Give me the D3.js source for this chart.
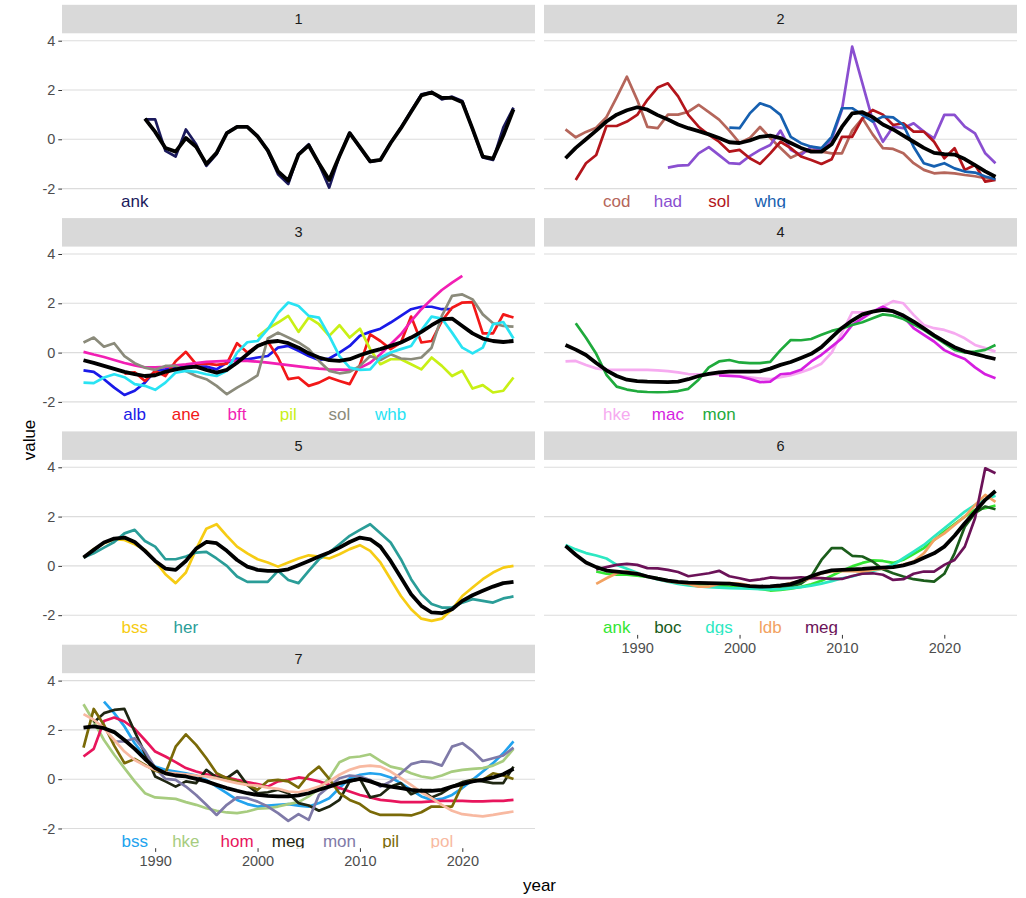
<!DOCTYPE html>
<html>
<head>
<meta charset="utf-8">
<script src="https://cdn.jsdelivr.net/npm/d3@7"></script>
<style>
  body { margin: 0; background: #ffffff; }
  svg { display: block; font-family: "Liberation Sans", Arial, Helvetica, sans-serif; }
</style>
</head>
<body>
<svg id="chart" width="1026" height="898"></svg>
<script>
// ---- Yearly index values per cluster (each series starts at its first year) ----
// Cluster 1
const c1_ank   = [0.81,0.81,-0.47,-0.7,0.4,-0.2,-1.08,-0.6,0.27,0.51,0.51,0.14,-0.47,-1.42,-1.82,-0.6,-0.2,-1.01,-1.96,-0.68,0.27,-0.34,-0.92,-0.84,-0.14,0.47,1.15,1.82,1.92,1.62,1.73,1.55,0.41,-0.74,-0.84,0.47,1.28];
const c1_trend = [0.84,0.3,-0.35,-0.5,0.05,-0.3,-1.0,-0.55,0.25,0.5,0.5,0.12,-0.45,-1.3,-1.68,-0.62,-0.25,-0.98,-1.65,-0.68,0.25,-0.32,-0.9,-0.84,-0.15,0.45,1.12,1.78,1.9,1.68,1.68,1.5,0.42,-0.7,-0.78,0.15,1.22];

// Cluster 2
const c2_cod = [0.4,0.08,0.3,0.47,0.9,1.7,2.54,1.6,0.5,0.45,1.0,1.0,1.12,1.4,1.1,0.8,0.35,-0.15,0.05,0.5,0.05,-0.35,-0.75,-0.55,-0.43,-0.5,-0.57,-0.57,0.35,0.85,0.2,-0.36,-0.39,-0.57,-0.97,-1.24,-1.38,-1.35,-1.38,-1.45,-1.5,-1.58,-1.62];
const c2_had = [-1.15,-1.07,-1.05,-0.57,-0.32,-0.64,-0.97,-1.0,-0.68,-0.43,-0.23,0.35,-0.43,-0.64,-0.3,-0.45,0.0,1.2,3.76,2.27,0.78,-0.1,0.51,0.45,0.65,0.31,0.04,0.99,0.99,0.51,0.24,-0.57,-0.97];
const c2_sol = [-1.65,-0.97,-0.64,0.54,0.54,0.72,0.99,1.6,2.1,2.27,1.74,0.99,0.51,0.18,-0.1,-0.5,-0.43,-0.77,-1.0,-0.57,-0.1,-0.36,-0.7,-0.84,-1.0,-0.81,0.1,0.1,0.85,1.19,1.0,0.58,0.65,0.31,0.31,-0.1,-0.77,-0.36,-1.24,-1.04,-1.72,-1.65];
const c2_whg = [0.47,0.45,1.05,1.46,1.32,0.99,0.1,-0.16,-0.3,-0.36,0.1,1.26,1.26,0.99,0.72,0.92,0.89,0.58,-0.3,-0.97,-1.1,-0.97,-1.18,-1.31,-1.35,-1.51,-1.62];
const c2_trend = [-0.77,-0.35,0.0,0.35,0.72,1.0,1.18,1.3,1.2,0.98,0.8,0.6,0.45,0.33,0.2,0.05,-0.12,-0.15,-0.05,0.1,0.15,0.05,-0.15,-0.35,-0.5,-0.5,-0.2,0.5,1.05,1.1,0.9,0.6,0.4,0.15,-0.1,-0.35,-0.55,-0.6,-0.62,-0.8,-1.05,-1.3,-1.52];

// Cluster 3
const c3_alb = [-0.72,-0.78,-1.08,-1.42,-1.72,-1.55,-1.22,-0.74,-0.68,-0.57,-0.54,-0.57,-0.57,-0.68,-0.41,-0.24,-0.27,-0.2,-0.14,0.2,0.27,0.07,-0.14,-0.3,-0.24,0.0,0.27,0.68,0.84,0.97,1.22,1.49,1.76,1.86,1.86,1.76,1.76];
const c3_ane = [-0.85,-0.8,-1.15,-0.75,-0.95,-0.35,0.03,-0.47,-0.45,-0.5,-0.45,0.38,0.0,0.27,0.45,-0.2,-1.08,-1.01,-1.35,-1.22,-1.01,-1.15,-1.28,-0.5,0.74,0.47,0.14,0.4,1.46,0.41,0.47,1.28,1.82,2.03,2.05,0.78,0.78,1.55,1.42];
const c3_bft = [0.03,-0.08,-0.18,-0.3,-0.42,-0.52,-0.6,-0.6,-0.58,-0.52,-0.48,-0.43,-0.38,-0.36,-0.34,-0.34,-0.34,-0.37,-0.41,-0.46,-0.51,-0.56,-0.61,-0.65,-0.68,-0.69,-0.7,-0.62,-0.41,-0.07,0.34,0.74,1.28,1.76,2.16,2.54,2.84,3.11];
const c3_pil = [0.65,0.97,1.22,1.49,0.84,1.42,1.15,0.68,1.11,0.61,0.97,0.14,-0.47,-0.27,-0.27,-0.47,-0.68,-0.2,-0.54,-0.95,-0.74,-1.46,-1.32,-1.62,-1.55,-1.01];
const c3_sol = [0.41,0.61,0.24,0.38,-0.14,-0.43,-0.61,-0.7,-0.54,-0.54,-0.75,-0.95,-1.08,-1.35,-1.69,-1.42,-1.19,-0.92,0.57,0.81,0.61,0.41,0.14,-0.34,-0.74,-0.84,-0.78,-0.54,-0.14,-0.3,-0.07,-0.24,-0.27,-0.2,0.2,1.49,2.3,2.36,2.16,1.55,1.19,1.08,1.05];
const c3_whb = [-1.22,-1.24,-1.01,-0.88,-1.0,-1.28,-1.35,-1.51,-1.22,-0.81,-0.74,-0.78,-0.88,-0.95,-0.74,0.0,0.42,0.47,0.95,1.6,2.03,1.89,1.49,1.42,0.68,-0.14,-0.61,-0.7,-0.68,-0.2,0.0,0.14,0.27,0.9,1.46,1.38,0.81,0.2,-0.03,0.2,1.15,1.24,0.57];
const c3_trend = [-0.31,-0.42,-0.54,-0.66,-0.78,-0.87,-0.95,-0.92,-0.78,-0.68,-0.61,-0.57,-0.7,-0.81,-0.7,-0.41,-0.07,0.27,0.43,0.47,0.38,0.2,-0.03,-0.2,-0.31,-0.34,-0.27,-0.11,0.03,0.14,0.27,0.41,0.61,0.84,1.11,1.35,1.38,1.08,0.78,0.57,0.47,0.43,0.47];

// Cluster 4
const c4_hke = [-0.36,-0.34,-0.5,-0.64,-0.7,-0.7,-0.7,-0.7,-0.7,-0.72,-0.75,-0.8,-0.87,-0.88,-0.88,-0.9,-0.92,-0.95,-1.0,-1.05,-1.08,-1.0,-0.92,-0.8,-0.65,-0.45,0.0,0.8,1.63,1.63,1.66,1.86,2.09,2.0,1.53,1.12,0.99,0.92,0.78,0.58,0.31,0.18,0.04];
const c4_mac = [-0.93,-0.95,-0.97,-1.07,-1.2,-1.18,-0.88,-0.84,-0.7,-0.36,-0.09,0.24,0.58,1.12,1.39,1.66,1.86,1.66,1.46,0.99,0.72,0.45,0.1,-0.1,-0.26,-0.6,-0.88,-1.04];
const c4_mon = [1.19,0.6,-0.05,-0.9,-1.38,-1.5,-1.57,-1.6,-1.61,-1.6,-1.56,-1.47,-1.1,-0.6,-0.36,-0.3,-0.4,-0.43,-0.43,-0.38,0.1,0.51,0.5,0.55,0.72,0.88,0.98,1.12,1.23,1.39,1.55,1.5,1.36,1.15,0.92,0.65,0.38,0.11,0.01,0.04,0.11,0.31];
const c4_trend = [0.31,0.12,-0.1,-0.42,-0.72,-0.95,-1.1,-1.16,-1.18,-1.19,-1.2,-1.18,-1.08,-0.95,-0.86,-0.8,-0.77,-0.77,-0.77,-0.76,-0.65,-0.5,-0.38,-0.22,-0.05,0.22,0.62,1.0,1.3,1.55,1.66,1.73,1.68,1.5,1.26,0.98,0.7,0.45,0.22,0.05,-0.05,-0.16,-0.26];

// Cluster 5
const c5_bss = [0.34,0.68,0.92,1.08,1.05,0.88,0.65,0.2,-0.34,-0.7,-0.27,0.68,1.51,1.69,1.22,0.78,0.51,0.27,0.14,-0.03,0.14,0.3,0.43,0.38,0.3,0.47,0.68,0.84,0.61,0.14,-0.54,-1.22,-1.76,-2.14,-2.23,-2.14,-1.76,-1.22,-0.88,-0.54,-0.27,-0.07,0.0];
const c5_her = [0.34,0.51,0.74,0.97,1.32,1.46,1.01,0.78,0.27,0.27,0.38,0.54,0.57,0.3,0.0,-0.43,-0.65,-0.65,-0.65,-0.2,-0.57,-0.7,-0.2,0.27,0.54,0.88,1.22,1.46,1.69,1.32,0.95,0.27,-0.54,-1.15,-1.55,-1.69,-1.69,-1.49,-1.35,-1.42,-1.49,-1.32,-1.24];
const c5_trend = [0.34,0.65,0.95,1.11,1.15,0.97,0.61,0.2,-0.11,-0.16,0.2,0.7,0.97,0.92,0.61,0.24,-0.03,-0.16,-0.2,-0.2,-0.14,0.03,0.2,0.38,0.54,0.74,0.97,1.15,1.08,0.78,0.2,-0.47,-1.15,-1.62,-1.89,-1.92,-1.76,-1.42,-1.19,-1.01,-0.84,-0.7,-0.65];

// Cluster 6
const c6_ank = [-0.23,-0.32,-0.36,-0.36,-0.4,-0.45,-0.5,-0.6,-0.67,-0.73,-0.77,-0.8,-0.82,-0.84,-0.85,-0.88,-0.93,-1.0,-0.97,-0.92,-0.85,-0.75,-0.6,-0.4,-0.2,-0.02,0.12,0.22,0.2,0.12,0.25,0.48,0.72,1.05,1.39,1.7,2.0,2.27,2.34,2.45];
const c6_boc = [-0.9,-0.88,-0.82,-0.72,-0.43,0.24,0.72,0.72,0.41,0.38,0.18,-0.14,-0.3,-0.43,-0.54,-0.6,-0.64,-0.32,0.51,1.59,2.14,2.41,2.3];
const c6_dgs = [0.85,0.67,0.52,0.42,0.3,0.04,-0.12,-0.28,-0.43,-0.55,-0.64,-0.73,-0.79,-0.83,-0.86,-0.88,-0.9,-0.91,-0.92,-0.94,-0.95,-0.94,-0.9,-0.86,-0.8,-0.72,-0.62,-0.5,-0.43,-0.3,-0.2,-0.1,0.04,0.31,0.58,0.85,1.19,1.53,1.86,2.2,2.47,2.7,2.85];
const c6_ldb = [-0.73,-0.5,-0.3,-0.23,-0.3,-0.43,-0.53,-0.62,-0.68,-0.73,-0.84,-0.84,-0.73,-0.7,-0.72,-0.8,-0.84,-0.84,-0.8,-0.7,-0.62,-0.5,-0.3,-0.23,-0.2,-0.21,-0.23,-0.16,-0.11,-0.05,0.05,0.18,0.51,1.05,1.32,1.66,2.0,2.47,2.88,2.6];
const c6_meg = [-0.14,-0.05,0.04,0.08,0.04,-0.09,-0.1,-0.16,-0.25,-0.42,-0.36,-0.3,-0.2,-0.42,-0.5,-0.6,-0.55,-0.47,-0.5,-0.5,-0.46,-0.5,-0.5,-0.53,-0.53,-0.41,-0.32,-0.3,-0.36,-0.57,-0.54,-0.32,-0.23,-0.23,0.04,0.24,0.78,1.93,3.96,3.76];
const c6_trend = [0.81,0.45,0.14,-0.05,-0.19,-0.23,-0.27,-0.32,-0.43,-0.52,-0.6,-0.65,-0.68,-0.69,-0.7,-0.71,-0.72,-0.77,-0.82,-0.84,-0.83,-0.79,-0.74,-0.6,-0.42,-0.28,-0.18,-0.16,-0.14,-0.12,-0.09,-0.07,-0.05,0.02,0.14,0.33,0.51,0.78,1.22,1.73,2.2,2.68,3.04];

// Cluster 7
const c7_bss = [3.15,2.68,2.14,1.46,0.92,0.51,0.38,0.31,0.24,0.15,-0.03,-0.3,-0.57,-0.84,-1.01,-1.11,-1.07,-1.04,-1.01,-1.07,-1.11,-0.97,-0.77,-0.36,0.04,0.18,0.24,0.2,0.07,-0.16,-0.43,-0.7,-0.84,-0.8,-0.64,-0.36,-0.03,0.31,0.65,1.05,1.53];
const c7_hke = [3.04,2.34,1.59,0.99,0.45,-0.09,-0.57,-0.74,-0.77,-0.8,-0.93,-1.04,-1.18,-1.28,-1.35,-1.38,-1.31,-1.2,-1.18,-1.11,-1.01,-0.93,-0.7,-0.39,0.04,0.69,0.88,0.92,1.01,0.74,0.51,0.42,0.24,0.11,0.04,0.15,0.31,0.38,0.42,0.45,0.55,0.74,1.23];
const c7_hom = [0.92,1.23,2.36,2.5,2.34,2.04,1.59,1.12,0.92,0.69,0.45,0.31,0.2,0.15,0.07,-0.03,-0.12,-0.2,-0.3,-0.09,-0.03,0.07,0.01,-0.09,-0.23,-0.36,-0.5,-0.64,-0.74,-0.84,-0.88,-0.93,-0.93,-0.93,-0.9,-0.88,-0.88,-0.88,-0.9,-0.9,-0.88,-0.88,-0.84];
const c7_meg = [2.3,2.68,2.81,2.85,1.93,1.05,0.11,-0.09,-0.3,-0.09,-0.16,0.38,0.07,0.04,0.34,-0.23,-0.57,-0.53,-0.43,-0.57,-0.97,-1.07,-1.28,-1.11,-0.84,-0.09,0.01,-0.74,-0.64,-0.3,-0.16,-0.61,-0.43,-0.74,-0.57,-0.3,-0.12,-0.03,-0.09,-0.16,-0.16,0.51];
const c7_mon = [1.53,1.53,1.66,1.15,0.45,0.01,-0.03,-0.3,-0.64,-1.04,-1.45,-1.04,-0.74,-0.77,-0.91,-1.11,-1.38,-1.69,-1.42,-1.65,-0.64,-0.3,0.04,0.15,0.11,-0.03,-0.3,-0.09,0.24,0.61,0.72,0.69,0.55,1.32,1.46,1.15,0.74,0.85,0.96,1.28];
const c7_pil = [1.28,2.85,2.2,1.36,0.65,0.82,0.58,0.34,0.24,1.32,1.82,1.39,0.85,0.24,0.04,-0.09,-0.23,-0.43,-0.07,-0.03,-0.09,-0.34,0.18,0.51,0.01,-0.57,-0.84,-1.01,-1.31,-1.45,-1.45,-1.45,-1.47,-1.34,-1.11,-1.11,-1.11,-0.23,-0.03,-0.03,0.24,0.15,0.01];
const c7_pol = [2.64,2.41,2.07,1.59,1.12,0.78,0.55,0.38,0.28,0.24,0.2,0.15,0.11,0.04,-0.07,-0.16,-0.23,-0.26,-0.34,-0.39,-0.5,-0.53,-0.43,-0.3,-0.09,0.18,0.38,0.51,0.55,0.51,0.31,0.04,-0.23,-0.53,-0.77,-1.04,-1.28,-1.42,-1.47,-1.51,-1.45,-1.38,-1.31];
const c7_trend = [2.09,2.14,2.07,1.91,1.59,1.23,0.82,0.45,0.24,0.15,0.11,0.01,-0.09,-0.23,-0.36,-0.47,-0.57,-0.64,-0.68,-0.7,-0.7,-0.66,-0.57,-0.43,-0.3,-0.16,-0.07,0.01,-0.09,-0.23,-0.3,-0.36,-0.43,-0.47,-0.47,-0.43,-0.3,-0.2,-0.09,-0.03,0.07,0.2,0.42];

// Axis ticks and label slots
const yTicks = [-2, 0, 2, 4];
const xTicks = [1990, 2000, 2010, 2020];
const labelYears = [1988, 1993, 1998, 2003, 2008, 2013, 2018];
const labelValue = -2.5;

// Series table: [cluster, stock, first year, values, colour]
const seriesTable = [
  [1, "ank", 1989, c1_ank, "#1b1a5c"],
  [2, "cod", 1983, c2_cod, "#b5665b"],
  [2, "had", 1993, c2_had, "#8a4fd0"],
  [2, "sol", 1984, c2_sol, "#b3151b"],
  [2, "whg", 1999, c2_whg, "#1660b0"],
  [3, "alb", 1983, c3_alb, "#1a1ae8"],
  [3, "ane", 1987, c3_ane, "#f21818"],
  [3, "bft", 1983, c3_bft, "#f21fb4"],
  [3, "pil", 2000, c3_pil, "#c8f016"],
  [3, "sol", 1983, c3_sol, "#8b8b7b"],
  [3, "whb", 1983, c3_whb, "#29e3f3"],
  [4, "hke", 1983, c4_hke, "#f6aaf0"],
  [4, "mac", 1998, c4_mac, "#d51fe0"],
  [4, "mon", 1984, c4_mon, "#1faa3c"],
  [5, "bss", 1983, c5_bss, "#f6cc14"],
  [5, "her", 1983, c5_her, "#2a9d98"],
  [6, "ank", 1986, c6_ank, "#33e633"],
  [6, "boc", 2003, c6_boc, "#1b5d1b"],
  [6, "dgs", 1983, c6_dgs, "#2de8c2"],
  [6, "ldb", 1986, c6_ldb, "#f2a262"],
  [6, "meg", 1986, c6_meg, "#6b1258"],
  [7, "bss", 1985, c7_bss, "#22a3ee"],
  [7, "hke", 1983, c7_hke, "#a7cc7f"],
  [7, "hom", 1983, c7_hom, "#e8155c"],
  [7, "meg", 1984, c7_meg, "#1f2612"],
  [7, "mon", 1986, c7_mon, "#7f7aa8"],
  [7, "pil", 1983, c7_pil, "#7a6a08"],
  [7, "pol", 1983, c7_pol, "#f8b9a1"]
];

// Common trend per cluster: [cluster, first year, values]
const trendTable = [
  [1, 1989, c1_trend],
  [2, 1983, c2_trend],
  [3, 1983, c3_trend],
  [4, 1983, c4_trend],
  [5, 1983, c5_trend],
  [6, 1983, c6_trend],
  [7, 1983, c7_trend]
];

// ---- Layout ----
const svg = d3.select("#chart");
const panelW = 473, panelH = 175, stripH = 28.5;
const colLeft = [62, 544];
const rowTop = [33.3, 246.6, 459.9, 673.2];
const font = '"Liberation Sans", Arial, Helvetica, sans-serif';

const x = d3.scaleLinear().domain([1980.9, 2027.1]).range([0, panelW]);
const y = d3.scaleLinear().domain([-2.8, 4.3]).range([panelH, 0]);

const toPoints = (start, vals) => vals.map((v, i) => ({ year: start + i, value: v }));
const line = d3.line().x(d => x(d.year)).y(d => y(d.value)).curve(d3.curveLinear);

const clusters = [1, 2, 3, 4, 5, 6, 7];

clusters.forEach((c, i) => {
  const col = i % 2, row = Math.floor(i / 2);
  const g = svg.append("g").attr("transform", `translate(${colLeft[col]},${rowTop[row]})`);

  // strip
  g.append("rect").attr("x", 0).attr("y", -stripH).attr("width", panelW).attr("height", stripH)
    .attr("fill", "#d9d9d9");
  g.append("text").attr("x", panelW / 2).attr("y", -stripH / 2).attr("dy", "0.35em")
    .attr("text-anchor", "middle").attr("font-size", 14.5).attr("fill", "#1a1a1a")
    .attr("font-family", font).text(c);

  // horizontal grid
  g.selectAll("line.grid").data(yTicks).enter().append("line")
    .attr("class", "grid")
    .attr("x1", 0).attr("x2", panelW)
    .attr("y1", d => y(d)).attr("y2", d => y(d))
    .attr("stroke", "#dcdcdc").attr("stroke-width", 1.1);

  const clipId = "clip" + c;
  g.append("clipPath").attr("id", clipId).append("rect")
    .attr("x", 0).attr("y", 0).attr("width", panelW).attr("height", panelH);
  const inner = g.append("g").attr("clip-path", `url(#${clipId})`);

  const rows = seriesTable.filter(s => s[0] === c);

  rows.forEach(s => {
    inner.append("path").datum(toPoints(s[2], s[3]))
      .attr("d", line).attr("fill", "none").attr("stroke", s[4])
      .attr("stroke-width", 2.7).attr("stroke-linejoin", "round").attr("stroke-linecap", "butt");
  });

  const tr = trendTable.find(t => t[0] === c);
  inner.append("path").datum(toPoints(tr[1], tr[2]))
    .attr("d", line).attr("fill", "none").attr("stroke", "#000000")
    .attr("stroke-width", 3.8).attr("stroke-linejoin", "round");

  rows.forEach((s, k) => {
    inner.append("text")
      .attr("x", x(labelYears[k])).attr("y", y(labelValue)).attr("dy", "0.35em")
      .attr("text-anchor", "middle").attr("font-size", 17).attr("font-family", font)
      .attr("fill", s[4]).text(s[1]);
  });

  // y axis on the left column
  if (col === 0) {
    const ay = g.append("g").call(d3.axisLeft(y).tickValues(yTicks).tickSize(3.7).tickPadding(3)
      .tickFormat(d => String(d)));
    ay.select(".domain").remove();
    ay.selectAll(".tick line").attr("stroke", "#333333").attr("stroke-width", 1);
    ay.selectAll(".tick text").attr("fill", "#4d4d4d").attr("font-size", 14.5)
      .attr("font-family", font);
  }

  // x axis under the last panel of each column
  if (c === 6 || c === 7) {
    const ax = g.append("g").attr("transform", `translate(0,${panelH})`)
      .call(d3.axisBottom(x).tickValues(xTicks).tickSize(3.7).tickPadding(4)
        .tickFormat(d => String(d)));
    ax.select(".domain").remove();
    ax.selectAll(".tick line").attr("stroke", "#333333").attr("stroke-width", 1);
    ax.selectAll(".tick text").attr("fill", "#4d4d4d").attr("font-size", 14.5)
      .attr("font-family", font);
  }
});

// axis titles
svg.append("text").attr("x", 539.5).attr("y", 885).attr("dy", "0.35em")
  .attr("text-anchor", "middle").attr("font-size", 17).attr("fill", "#000")
  .attr("font-family", font).text("year");
svg.append("text").attr("transform", "translate(29,440) rotate(-90)").attr("dy", "0.35em")
  .attr("text-anchor", "middle").attr("font-size", 17).attr("fill", "#000")
  .attr("font-family", font).text("value");
</script>
</body>
</html>
